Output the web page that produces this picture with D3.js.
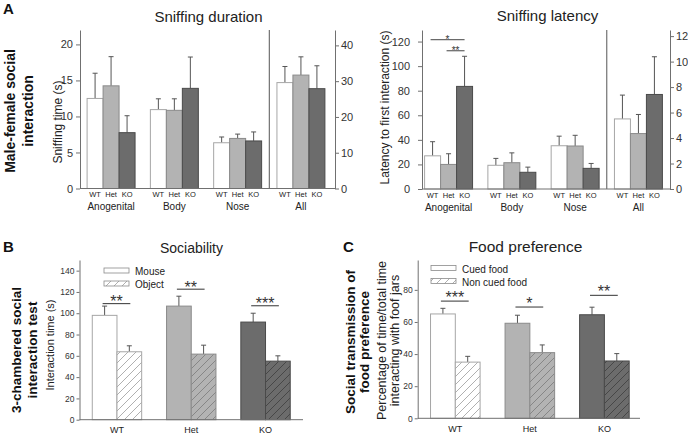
<!DOCTYPE html>
<html><head><meta charset="utf-8">
<script src="https://cdn.jsdelivr.net/npm/d3@7"></script>
<style>
body{margin:0;background:#fff;}
svg{display:block;font-family:"Liberation Sans",Arial,Helvetica,sans-serif;}
</style></head><body>
<svg id="c" width="688" height="435"></svg>
<script>
// ---------------- DATA ----------------
const genotypes = ["WT", "Het", "KO"];
const sniffGroups = ["Anogenital", "Body", "Nose", "All"];

// Sniffing duration (s); "All" values are on the right axis
const durWT = [12.5, 10.95, 6.35, 29.6];
const durHet = [14.25, 10.85, 6.95, 31.7];
const durKO = [7.75, 13.9, 6.6, 27.9];
const durWTsem = [3.5, 1.5, 0.8, 4.5];
const durHetsem = [4.05, 1.6, 0.6, 5.1];
const durKOsem = [2.35, 4.35, 1.25, 6.4];
const durTicksL = [0, 5, 10, 15, 20];
const durTicksR = [0, 10, 20, 30, 40];

// Sniffing latency (s); "All" values are on the right axis
const latWT = [27, 19.3, 35.2, 5.5];
const latHet = [20, 21.4, 35, 4.35];
const latKO = [83.5, 13.6, 16.8, 7.42];
const latWTsem = [11.5, 5.6, 7.8, 1.87];
const latHetsem = [8.7, 8, 8.7, 1.5];
const latKOsem = [24.5, 4.2, 4.0, 2.96];
const latTicksL = [0, 20, 40, 60, 80, 100, 120];
const latTicksR = [0, 2, 4, 6, 8, 10, 12];
const latSig = [{from: "WT", to: "KO", y: 121.5, label: "*"}, {from: "Het", to: "KO", y: 112.5, label: "**"}];

// Sociability (s)
const socSeries = ["Mouse", "Object"];
const socMouse = [98, 106.7, 91.7];
const socObject = [63.8, 61.6, 55];
const socMouseSem = [8.7, 9.3, 8.3];
const socObjectSem = [5.6, 8.4, 5.0];
const socSigLabel = ["**", "**", "***"];
const socSigY = [109, 122.6, 107];
const socTicks = [0, 20, 40, 60, 80, 100, 120, 140];

// Food preference (%)
const foodSeries = ["Cued food", "Non cued food"];
const foodCued = [65, 59.2, 64.5];
const foodNon = [35, 40.9, 35.7];
const foodCuedSem = [3.5, 5.0, 4.7];
const foodNonSem = [3.6, 4.8, 4.6];
const foodSigLabel = ["***", "*", "**"];
const foodSigY = [73, 69.3, 76.6];
const foodTicks = [0, 20, 40, 60, 80];

// ---------------- STYLE ----------------
const fill = {WT: "#ffffff", Het: "#b3b3b3", KO: "#6c6c6c"};
const stroke = {WT: "#a6a6a6", Het: "#8a8a8a", KO: "#4a4a4a"};
const hatchCol = {WT: "#9c9c9c", Het: "#7a7a7a", KO: "#3e3e3e"};
const errCol = "#555";
const axisCol = "#707070";
const txtCol = "#222";

const svg = d3.select("#c");
const defs = svg.append("defs");
genotypes.forEach(g => {
  const p = defs.append("pattern").attr("id", "h" + g)
    .attr("patternUnits", "userSpaceOnUse").attr("width", 8).attr("height", 8);
  p.append("rect").attr("width", 8).attr("height", 8).attr("fill", fill[g]);
  p.append("path").attr("d", "M-2,2 L2,-2 M0,8 L8,0 M6,10 L10,6")
    .attr("stroke", hatchCol[g]).attr("stroke-width", 0.8);
});

function txt(x, y, s, size, opts = {}) {
  const t = svg.append("text").attr("x", x).attr("y", y).text(s)
    .attr("font-size", size).attr("fill", opts.fill || txtCol)
    .attr("text-anchor", opts.anchor || "middle");
  if (opts.bold) t.attr("font-weight", "bold");
  if (opts.rot) t.attr("transform", `rotate(-90,${x},${y})`);
  return t;
}

function styleAxis(g, fs) {
  g.selectAll("path.domain").attr("stroke", axisCol);
  g.selectAll(".tick line").attr("stroke", axisCol);
  g.selectAll(".tick text").attr("fill", "#333").attr("font-size", fs)
    .attr("font-family", '"Liberation Sans",Arial,sans-serif');
}

function errBar(g, cx, y1, y2, cap) {
  g.append("line").attr("x1", cx).attr("x2", cx).attr("y1", y1).attr("y2", y2)
    .attr("stroke", errCol).attr("stroke-width", 1);
  g.append("line").attr("x1", cx - cap / 2).attr("x2", cx + cap / 2).attr("y1", y2).attr("y2", y2)
    .attr("stroke", errCol).attr("stroke-width", 1);
}

// ---------------- PANEL A (sniffing) ----------------
function sniffPanel(cfg) {
  const x0 = d3.scaleBand().domain(sniffGroups).range(cfg.xr).paddingInner(0.242).paddingOuter(0.12);
  const x1 = d3.scaleBand().domain(genotypes).range([0, x0.bandwidth()]);
  const yL = d3.scaleLinear().domain(cfg.yLd).range([cfg.y0, cfg.yTop]);
  const yR = d3.scaleLinear().domain(cfg.yRd).range([cfg.y0, cfg.yTop]);
  const g = svg.append("g");
  const bw = x1.bandwidth();
  sniffGroups.forEach((grp, i) => {
    const y = grp === "All" ? yR : yL;
    genotypes.forEach(gt => {
      const m = cfg.mean[gt][i], s = cfg.sem[gt][i];
      const bx = x0(grp) + x1(gt);
      errBar(g, bx + bw / 2, y(m), y(m + s), 5);
      g.append("rect").attr("x", bx).attr("y", y(m)).attr("width", bw)
        .attr("height", y(0) - y(m)).attr("fill", fill[gt]).attr("stroke", stroke[gt]).attr("stroke-width", 1);
      txt(bx + bw / 2, cfg.y0 + 8.5, gt, 7.5, {fill: "#222"});
    });
    txt(x0(grp) + x0.bandwidth() / 2, cfg.y0 + 21.5, grp, 10);
  });
  // divider
  const dx = (x0("Nose") + x0.bandwidth() + x0("All")) / 2;
  g.append("line").attr("x1", dx).attr("x2", dx).attr("y1", cfg.yTop).attr("y2", cfg.y0)
    .attr("stroke", "#555").attr("stroke-width", 1);
  // x baseline
  g.append("line").attr("x1", cfg.axL).attr("x2", cfg.axR).attr("y1", cfg.y0).attr("y2", cfg.y0)
    .attr("stroke", axisCol);
  const aL = g.append("g").attr("transform", `translate(${cfg.axL},0)`)
    .call(d3.axisLeft(yL).tickValues(cfg.ticksL).tickSize(4).tickSizeOuter(0).tickPadding(cfg.padL));
  styleAxis(aL, 11);
  const aR = g.append("g").attr("transform", `translate(${cfg.axR},0)`)
    .call(d3.axisRight(yR).tickValues(cfg.ticksR).tickSize(4).tickSizeOuter(0).tickPadding(2));
  styleAxis(aR, 11);
  return {x0, x1, yL, yR};
}

const pDur = sniffPanel({
  xr: [79.5, 332.5], axL: 80, axR: 335, y0: 188.5, yTop: 30, padL: 3,
  yLd: [0, 22], yRd: [0, 44.3], ticksL: durTicksL, ticksR: durTicksR,
  mean: {WT: durWT, Het: durHet, KO: durKO},
  sem: {WT: durWTsem, Het: durHetsem, KO: durKOsem}
});
const pLat = sniffPanel({
  xr: [417, 670], axL: 422, axR: 670, y0: 189, yTop: 30, padL: 8,
  yLd: [0, 129.4], yRd: [0, 12.48], ticksL: latTicksL, ticksR: latTicksR,
  mean: {WT: latWT, Het: latHet, KO: latKO},
  sem: {WT: latWTsem, Het: latHetsem, KO: latKOsem}
});
// latency significance
latSig.forEach(s => {
  const bw = pLat.x1.bandwidth();
  const xa = pLat.x0("Anogenital") + pLat.x1(s.from) + bw / 2 - 2;
  const xb = pLat.x0("Anogenital") + pLat.x1(s.to) + bw / 2;
  const yy = pLat.yL(s.y);
  svg.append("line").attr("x1", xa).attr("x2", xb).attr("y1", yy).attr("y2", yy).attr("stroke", "#444");
  txt((xa + xb) / 2, yy + 3.5, s.label, 10, {fill: "#333"});
});

txt(208.5, 21.5, "Sniffing duration", 15);
txt(547.5, 20.5, "Sniffing latency", 15);
txt(61.5, 122, "Sniffing time (s)", 12, {rot: true});
txt(389, 107.5, "Latency to first interaction (s)", 12, {rot: true});

// ---------------- PANELS B, C (paired bars) ----------------
function pairPanel(cfg) {
  const x0 = d3.scaleBand().domain(genotypes).range(cfg.xr).paddingInner(0.335).paddingOuter(0.172);
  const x1 = d3.scaleBand().domain(cfg.series).range([0, x0.bandwidth()]);
  const y = d3.scaleLinear().domain(cfg.yd).range([cfg.y0, cfg.yTop]);
  const g = svg.append("g");
  const bw = x1.bandwidth();
  genotypes.forEach((gt, i) => {
    cfg.series.forEach((se, j) => {
      const m = cfg.mean[j][i], s = cfg.sem[j][i];
      const bx = x0(gt) + x1(se);
      errBar(g, bx + bw / 2, y(m), y(m + s), 5);
      g.append("rect").attr("x", bx).attr("y", y(m)).attr("width", bw)
        .attr("height", y(0) - y(m))
        .attr("fill", j === 0 ? fill[gt] : `url(#h${gt})`)
        .attr("stroke", stroke[gt]).attr("stroke-width", 1);
    });
    // significance
    const xa = x0(gt) + x1(cfg.series[0]) + bw / 2 - 2;
    const xb = x0(gt) + x1(cfg.series[1]) + bw / 2 + 1;
    const yy = y(cfg.sigY[i]);
    g.append("line").attr("x1", xa).attr("x2", xb).attr("y1", yy).attr("y2", yy).attr("stroke", "#333");
    txt((xa + xb) / 2, yy + cfg.starDy, cfg.sigLabel[i], 16, {fill: "#333"});
    txt(x0(gt) + x0.bandwidth() / 2, cfg.y0 + 13.5, gt, 9);
  });
  g.append("line").attr("x1", cfg.axL).attr("x2", cfg.axR).attr("y1", cfg.y0).attr("y2", cfg.y0)
    .attr("stroke", axisCol);
  const aL = g.append("g").attr("transform", `translate(${cfg.axL},0)`)
    .call(d3.axisLeft(y).tickValues(cfg.ticks).tickSize(3).tickSizeOuter(0).tickPadding(2));
  styleAxis(aL, 8.5);
  // legend
  cfg.series.forEach((se, j) => {
    const ly = cfg.legY + j * 13;
    g.append("rect").attr("x", cfg.legX).attr("y", ly).attr("width", 25).attr("height", 5)
      .attr("fill", j === 0 ? "#fff" : "url(#hWT)").attr("stroke", "#8a8a8a").attr("stroke-width", 0.8);
    txt(cfg.legX + 31, ly + 7, se, 10, {anchor: "start"});
  });
  return {x0, x1, y};
}

pairPanel({
  xr: [79.5, 303], axL: 79.5, axR: 303, y0: 419.7, yTop: 260, yd: [0, 150],
  ticks: socTicks, series: socSeries,
  mean: [socMouse, socObject], sem: [socMouseSem, socObjectSem],
  sigY: socSigY, sigLabel: socSigLabel, starDy: 3.5,
  legX: 104, legY: 268
});
pairPanel({
  xr: [417.7, 642], axL: 417.7, axR: 640, y0: 418.3, yTop: 260, yd: [0, 98.6],
  ticks: foodTicks, series: foodSeries,
  mean: [foodCued, foodNon], sem: [foodCuedSem, foodNonSem],
  sigY: foodSigY, sigLabel: foodSigLabel, starDy: 2,
  legX: 431, legY: 265.5
});

txt(191.5, 253.3, "Sociability", 14);
txt(525.5, 252.3, "Food preference", 15.5);
txt(53.5, 345, "Interaction time (s)", 11, {rot: true});
txt(385.5, 340.5, "Percentage of time/total time", 12.5, {rot: true});
txt(399, 340.5, "interacting with foof jars", 12.5, {rot: true});

// ---------------- Panel letters and row labels ----------------
txt(3, 14, "A", 15, {bold: true, anchor: "start", fill: "#111"});
txt(3, 252, "B", 15, {bold: true, anchor: "start", fill: "#111"});
txt(343, 252, "C", 15, {bold: true, anchor: "start", fill: "#111"});
txt(15, 111, "Male-female social", 14, {bold: true, rot: true, fill: "#111"});
txt(32.5, 111, "interaction", 14, {bold: true, rot: true, fill: "#111"});
txt(20.5, 350, "3-chambered social", 13.5, {bold: true, rot: true, fill: "#111"});
txt(36.5, 350, "interaction test", 13.5, {bold: true, rot: true, fill: "#111"});
txt(355, 342, "Social transmission of", 13.5, {bold: true, rot: true, fill: "#111"});
txt(369, 342, "food preference", 13.5, {bold: true, rot: true, fill: "#111"});
</script>
</body></html>
